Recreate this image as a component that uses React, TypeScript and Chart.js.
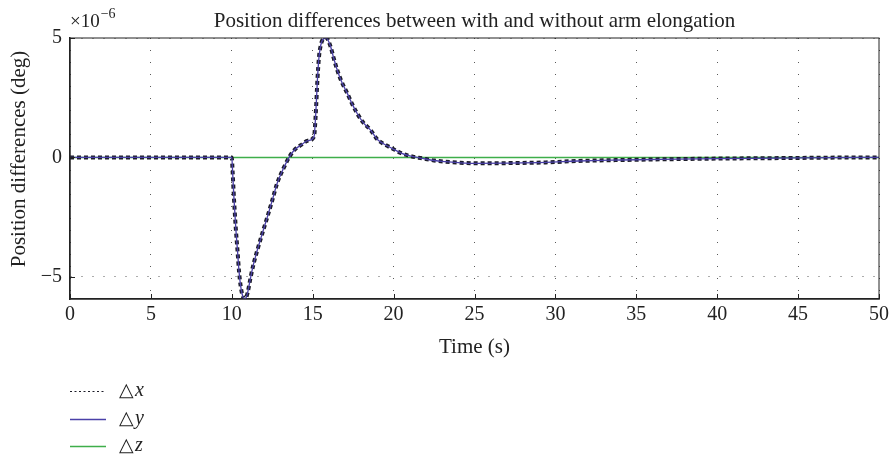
import React, { useEffect, useRef } from "react";
import { Chart, registerables } from "chart.js";
Chart.register(...registerables);

const chartTitle = "Position differences between with and without arm elongation";
const xTitle = "Time (s)";
const yTitle = "Position differences (deg)";
const yExponent = "−6";

const timeS = [0, 10, 10.05, 10.14, 10.25, 10.35, 10.45, 10.55, 10.65, 10.78, 10.9, 11.0, 11.17, 11.35, 11.58, 11.9, 12.2, 12.5, 12.8, 13.2, 13.54, 13.85, 14.26, 14.7, 15.08, 15.19, 15.29, 15.39, 15.5, 15.6, 15.84, 16.11, 16.3, 16.52, 16.8, 17.14, 17.45, 17.75, 18.1, 18.58, 19.0, 19.4, 19.9, 20.43, 21.0, 21.77, 22.5, 23.2, 24.0, 25.06, 27.0, 29.4, 31.4, 34.0, 37.6, 40.0, 43.8, 47.0, 50];
// values in units of 1e-6 deg
const deltaX = [0, 0, -0.6, -1.79, -3.0, -3.88, -4.8, -5.4, -5.75, -5.93, -5.85, -5.6, -5.0, -4.45, -3.88, -3.15, -2.49, -1.8, -1.09, -0.45, 0, 0.3, 0.51, 0.7, 0.86, 1.84, 3.23, 4.21, 4.7, 4.91, 5.0, 4.63, 4.15, 3.65, 3.15, 2.68, 2.22, 1.84, 1.48, 1.14, 0.75, 0.56, 0.38, 0.19, 0.06, -0.04, -0.13, -0.18, -0.22, -0.25, -0.24, -0.21, -0.15, -0.11, -0.07, -0.05, -0.03, -0.01, 0];
const deltaY = [0, 0, -0.6, -1.79, -3.0, -3.88, -4.8, -5.4, -5.75, -5.93, -5.85, -5.6, -5.0, -4.45, -3.88, -3.15, -2.49, -1.8, -1.09, -0.45, 0, 0.3, 0.51, 0.7, 0.86, 1.84, 3.23, 4.21, 4.7, 4.91, 5.0, 4.63, 4.15, 3.65, 3.15, 2.68, 2.22, 1.84, 1.48, 1.14, 0.75, 0.56, 0.38, 0.19, 0.06, -0.04, -0.13, -0.18, -0.22, -0.25, -0.24, -0.21, -0.15, -0.11, -0.07, -0.05, -0.03, -0.01, 0];
const timeZ = [0, 50];
const deltaZ = [0, 0];

const xTicks = [0, 5, 10, 15, 20, 25, 30, 35, 40, 45, 50];
const yTicks = [-5, 0, 5];

const legendLabels = ["x", "y", "z"];
const seriesColors = ["#1c1c28", "#4a40a8", "#3fae4a"];

const FONT = '"Liberation Serif", "Times New Roman", serif';

const decorPlugin = {
  id: "decor",
  afterDraw(chart: any) {
    const { ctx, chartArea: a, scales } = chart;
    ctx.save();
    // frame
    ctx.strokeStyle = "#222";
    ctx.lineWidth = 1;
    ctx.strokeRect(a.left, a.top, a.right - a.left, a.bottom - a.top);
    // inward tick marks
    ctx.beginPath();
    for (const v of xTicks) {
      const px = Math.round(scales.x.getPixelForValue(v)) + 0.5;
      ctx.moveTo(px, a.bottom);
      ctx.lineTo(px, a.bottom - 5);
    }
    for (const v of yTicks) {
      const py = Math.round(scales.y.getPixelForValue(v)) + 0.5;
      ctx.moveTo(a.left, py);
      ctx.lineTo(a.left + 5, py);
    }
    ctx.stroke();
    // y axis title
    ctx.fillStyle = "#222";
    ctx.save();
    ctx.translate(19, 159);
    ctx.rotate(-Math.PI / 2);
    ctx.textAlign = "center";
    ctx.textBaseline = "middle";
    ctx.font = `21px ${FONT}`;
    ctx.fillText(yTitle, 0, 0);
    ctx.restore();
    // exponent label
    ctx.textBaseline = "alphabetic";
    ctx.textAlign = "left";
    ctx.font = `19px ${FONT}`;
    ctx.fillText("×10", a.left, 27);
    const w = ctx.measureText("×10").width;
    ctx.font = `14px ${FONT}`;
    ctx.fillText(yExponent, a.left + w + 1, 18);
    // legend
    const rows = [391, 419, 446];
    for (let i = 0; i < 3; i++) {
      const y = rows[i];
      ctx.beginPath();
      ctx.strokeStyle = seriesColors[i];
      ctx.lineWidth = i === 0 ? 1 : 1.5;
      ctx.setLineDash(i === 0 ? [2, 2.5] : []);
      ctx.moveTo(70, y + 0.5);
      ctx.lineTo(106, y + 0.5);
      ctx.stroke();
      ctx.setLineDash([]);
      ctx.fillStyle = "#222";
      ctx.font = `19px ${FONT}`;
      ctx.fillText("△", 119, y + 5);
      const tw = ctx.measureText("△").width;
      ctx.font = `italic 20px ${FONT}`;
      ctx.fillText(legendLabels[i], 119 + tw + 1, y + 5);
    }
    ctx.restore();
  },
};

export default function App() {
  const ref = useRef<HTMLCanvasElement | null>(null);
  useEffect(() => {
    document.body.style.margin = "0";
    const canvas = ref.current!;
    const chart = new Chart(canvas, {
      type: "line",
      data: {
        datasets: [
          {
            label: "Δx",
            data: timeS.map((t, i) => ({ x: t, y: deltaX[i] })),
            borderColor: seriesColors[0],
            borderWidth: 4,
            borderDash: [4, 3],
            pointRadius: 0,
            cubicInterpolationMode: "monotone",
            order: 2,
          },
          {
            label: "Δy",
            data: timeS.map((t, i) => ({ x: t, y: deltaY[i] })),
            borderColor: seriesColors[1],
            borderWidth: 1.3,
            pointRadius: 0,
            cubicInterpolationMode: "monotone",
            order: 1,
          },
          {
            label: "Δz",
            data: timeZ.map((t, i) => ({ x: t, y: deltaZ[i] })),
            borderColor: seriesColors[2],
            borderWidth: 1.5,
            pointRadius: 0,
            order: 3,
          },
        ],
      },
      plugins: [decorPlugin],
      options: {
        animation: false,
        responsive: false,
        events: [],
        layout: { padding: { left: 0, right: 13.5, top: 0, bottom: 97.7 } },
        plugins: {
          legend: { display: false },
          tooltip: { enabled: false },
          title: {
            display: true,
            text: chartTitle,
            fullSize: false,
            color: "#222",
            font: { family: FONT, size: 21, weight: "normal", lineHeight: 1.2 },
            padding: { top: 9.1, bottom: 3.7 },
          },
        },
        scales: {
          x: {
            type: "linear",
            min: 0,
            max: 50,
            afterBuildTicks: (s: any) => {
              s.ticks = xTicks.map((v) => ({ value: v }));
            },
            afterFit: (s: any) => {
              s.height = 61.3;
            },
            ticks: { color: "#222", padding: 4, font: { family: FONT, size: 20, lineHeight: 1.2 } },
            grid: { drawTicks: false, color: "rgba(0,0,0,0.65)", lineWidth: 1 },
            border: { display: true, color: "#222", width: 1.5, dash: [1, 11] },
            title: {
              display: true,
              text: xTitle,
              color: "#222",
              font: { family: FONT, size: 21, lineHeight: 1.2 },
              padding: { top: 0, bottom: 0 },
            },
          },
          y: {
            type: "linear",
            min: -5.93,
            max: 5,
            afterBuildTicks: (s: any) => {
              s.ticks = yTicks.map((v) => ({ value: v }));
            },
            afterFit: (s: any) => {
              s.width = 70;
            },
            ticks: {
              color: "#222",
              padding: 8,
              font: { family: FONT, size: 20 },
              callback: (v: any) => (v < 0 ? "−" + Math.abs(v) : String(v)),
            },
            grid: { drawTicks: false, color: "rgba(0,0,0,0.65)", lineWidth: 1 },
            border: { display: true, color: "#222", width: 1.5, dash: [1, 10] },
            title: { display: false },
          },
        },
      },
    } as any);
    return () => chart.destroy();
  }, []);
  return (
    <div style={{ width: 893, height: 458, background: "#fff" }}>
      <canvas ref={ref} width={893} height={458} style={{ display: "block" }} />
    </div>
  );
}
